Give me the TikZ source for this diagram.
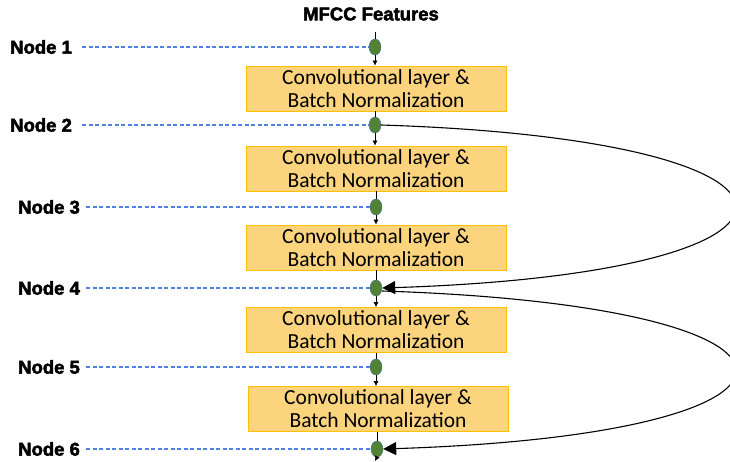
\documentclass[tikz,border=0pt]{standalone}
\usepackage{fontspec}
\setmainfont{Carlito}
\newfontfamily\labelfont[FakeBold=2.5]{Liberation Sans Bold}
\usetikzlibrary{%
  arrows.meta,%
  shapes.geometric%
}
\definecolor{boxfill}{HTML}{FDD47E}
\definecolor{boxline}{HTML}{FFC000}
\definecolor{dotfill}{HTML}{548235}
\definecolor{dotline}{HTML}{41719C}
\definecolor{guide}{HTML}{4F81E0}

\begin{document}
\begin{tikzpicture}[x=1pt,y=-1pt,
  layerbox/.style={draw=boxline,fill=boxfill,line width=0.8pt,minimum width=260pt,minimum height=45pt,
    align=center,font=\fontsize{21.5}{23}\selectfont,inner sep=0pt},
  dot/.style={ellipse,draw=dotline,fill=dotfill,minimum width=12pt,minimum height=16pt,inner sep=0pt},
  nodelabel/.style={anchor=west,font=\labelfont\fontsize{18.5}{18.5}\selectfont,inner sep=0pt},
  guideline/.style={guide,dash pattern=on 4pt off 2.5pt,line width=1.2pt},
  small/.style={-{Latex[length=5pt,width=5pt]},line width=0.6pt},
  skip/.style={-{Triangle[length=13pt,width=13pt]},line width=1.1pt}
]
\useasboundingbox (0,0) rectangle (730,461);

\node[font=\labelfont\fontsize{18.5}{18.5}\selectfont] (title) at (371,14) {MFCC Features};
\coordinate (in) at (375,32);
\coordinate (out) at (375,461);

% nodes
\node[dot] (n1) at (375,47) {};
\node[dot] (n2) at (375,125) {};
\node[dot] (n3) at (376,207) {};
\node[dot] (n4) at (376,288) {};
\node[dot] (n5) at (376,367) {};
\node[dot] (n6) at (377,449) {};

% layers
\node[layerbox] (c1) at (376,88.5) {Convolutional layer \&\\Batch Normalization};
\node[layerbox] (c2) at (376,168.5) {Convolutional layer \&\\Batch Normalization};
\node[layerbox] (c3) at (376,247.5) {Convolutional layer \&\\Batch Normalization};
\node[layerbox] (c4) at (376,330) {Convolutional layer \&\\Batch Normalization};
\node[layerbox] (c5) at (378,409) {Convolutional layer \&\\Batch Normalization};

% labels
\node[nodelabel] (l1) at (10,47) {Node 1};
\node[nodelabel] (l2) at (10,125) {Node 2};
\node[nodelabel] (l3) at (18,207) {Node 3};
\node[nodelabel] (l4) at (18,288) {Node 4};
\node[nodelabel] (l5) at (18,367) {Node 5};
\node[nodelabel] (l6) at (18,449) {Node 6};

\draw[guideline] (l1.east) ++(10,0) -- (n1.west);
\draw[guideline] (l2.east) ++(10,0) -- (n2.west);
\draw[guideline] (l3.east) ++(6,0) -- (n3.west);
\draw[guideline] (l4.east) ++(6,0) -- (n4.west);
\draw[guideline] (l5.east) ++(6,0) -- (n5.west);
\draw[guideline] (l6.east) ++(6,0) -- (n6.west);

% main path
\draw[line width=0.6pt] (in) -- (n1.north);
\draw[small] (n1.south) -- (c1.north -| n1);
\draw[line width=0.6pt] (c1.south -| n2) -- (n2.north);
\draw[small] (n2.south) -- (c2.north -| n2);
\draw[line width=0.6pt] (c2.south -| n3) -- (n3.north);
\draw[small] (n3.south) -- (c3.north -| n3);
\draw[line width=0.6pt] (c3.south -| n4) -- (n4.north);
\draw[small] (n4.south) -- (c4.north -| n4);
\draw[line width=0.6pt] (c4.south -| n5) -- (n5.north);
\draw[small] (n5.south) -- (c5.north -| n5);
\draw[line width=0.6pt] (c5.south -| n6) -- (n6.north);
\draw[small] (n6.south) -- (out);

% skip connections
\draw[skip] (n2.east) .. controls (852,140) and (852,273) .. (n4.east);
\draw[skip] (n4.east) ++(0,3) .. controls (852,306) and (852,434) .. (n6.east);
\end{tikzpicture}
\end{document}
